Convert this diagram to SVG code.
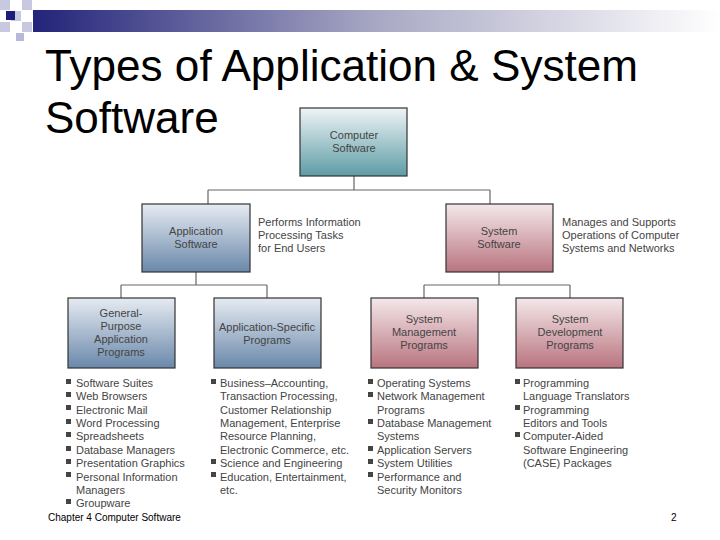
<svg xmlns="http://www.w3.org/2000/svg" width="720" height="540" viewBox="0 0 720 540">
<defs>
<linearGradient id="bar" x1="0" x2="1" y1="0" y2="0"><stop offset="0" stop-color="#23237a"/><stop offset="0.5" stop-color="#a8a8c4"/><stop offset="1" stop-color="#ffffff"/></linearGradient>
<linearGradient id="teal" x1="0" x2="0" y1="0" y2="1"><stop offset="0" stop-color="#eef4f5"/><stop offset="1" stop-color="#5e9ca6"/></linearGradient>
<linearGradient id="blue" x1="0" x2="0" y1="0" y2="1"><stop offset="0" stop-color="#e6ebf2"/><stop offset="1" stop-color="#6a88aa"/></linearGradient>
<linearGradient id="red" x1="0" x2="0" y1="0" y2="1"><stop offset="0" stop-color="#f4e8ea"/><stop offset="1" stop-color="#b9747f"/></linearGradient>
</defs>
<style>
.box{stroke:#333;stroke-width:1.2}
.bl{font-family:"Liberation Sans",Arial,sans-serif;font-size:11px;fill:#444;text-anchor:middle}
.t{font-family:"Liberation Sans",Arial,sans-serif;font-size:11px;fill:#444}
.sq{fill:#444}
.ln{stroke:#666;stroke-width:1.2;fill:none}
</style>
<rect x="0" y="0" width="10" height="10" fill="#c8c8e0"/>
<rect x="22" y="0" width="10" height="10" fill="#c8c8e0"/>
<rect x="11" y="11" width="10" height="10" fill="#c8c8e0"/>
<rect x="0" y="22" width="10" height="10" fill="#c8c8e0"/>
<rect x="22" y="22" width="10" height="10" fill="#c8c8e0"/>
<rect x="16" y="33" width="8" height="8" fill="#b8b8d8"/>
<rect x="6" y="11" width="9" height="9" fill="#1c1c7a"/>
<rect x="33" y="10" width="687" height="22" fill="url(#bar)"/>
<text x="45" y="81" font-family="Liberation Sans,Arial,sans-serif" font-size="44" fill="#000" textLength="593" lengthAdjust="spacingAndGlyphs">Types of Application &amp; System</text>
<text x="45" y="133" font-family="Liberation Sans,Arial,sans-serif" font-size="44" fill="#000">Software</text>
<g id="connectors">
<path class="ln" d="M354 176V190M208 190H490M208 190V204M490 190V204"/>
<path class="ln" d="M196 272V285M121 285H267M121 285V298M267 285V298"/>
<path class="ln" d="M499 272V285M424 285H570M424 285V298M570 285V298"/>
</g>
<g id="computer"><rect class="box" x="300" y="108" width="107" height="68" fill="url(#teal)"/><text class="bl" x="354" y="139">Computer</text><text class="bl" x="354" y="152">Software</text></g>
<g id="app"><rect class="box" x="142" y="204" width="108" height="68" fill="url(#blue)"/><text class="bl" x="196" y="235">Application</text><text class="bl" x="196" y="248">Software</text>
<text class="t" x="258" y="226">Performs Information</text><text class="t" x="258" y="239">Processing Tasks</text><text class="t" x="258" y="252">for End Users</text></g>
<g id="sys"><rect class="box" x="446" y="204" width="107" height="68" fill="url(#red)"/><text class="bl" x="499" y="235">System</text><text class="bl" x="499" y="248">Software</text>
<text class="t" x="562" y="226">Manages and Supports</text><text class="t" x="562" y="239">Operations of Computer</text><text class="t" x="562" y="252">Systems and Networks</text></g>
<g id="gp"><rect class="box" x="68" y="298" width="107" height="70" fill="url(#blue)"/><text class="bl" x="121" y="317">General-</text><text class="bl" x="121" y="330">Purpose</text><text class="bl" x="121" y="343">Application</text><text class="bl" x="121" y="356">Programs</text></g>
<g id="as"><rect class="box" x="214" y="298" width="107" height="70" fill="url(#blue)"/><text class="bl" x="267" y="331">Application-Specific</text><text class="bl" x="267" y="344">Programs</text></g>
<g id="sm"><rect class="box" x="371" y="298" width="107" height="70" fill="url(#red)"/><text class="bl" x="424" y="323">System</text><text class="bl" x="424" y="336">Management</text><text class="bl" x="424" y="349">Programs</text></g>
<g id="sd"><rect class="box" x="516" y="298" width="107" height="70" fill="url(#red)"/><text class="bl" x="570" y="323">System</text><text class="bl" x="570" y="336">Development</text><text class="bl" x="570" y="349">Programs</text></g>
<g id="list1">
<rect class="sq" x="66" y="379" width="5" height="5"/><text class="t" x="76" y="387">Software Suites</text>
<rect class="sq" x="66" y="392" width="5" height="5"/><text class="t" x="76" y="400">Web Browsers</text>
<rect class="sq" x="66" y="405" width="5" height="5"/><text class="t" x="76" y="414">Electronic Mail</text>
<rect class="sq" x="66" y="419" width="5" height="5"/><text class="t" x="76" y="427">Word Processing</text>
<rect class="sq" x="66" y="432" width="5" height="5"/><text class="t" x="76" y="440">Spreadsheets</text>
<rect class="sq" x="66" y="446" width="5" height="5"/><text class="t" x="76" y="454">Database Managers</text>
<rect class="sq" x="66" y="459" width="5" height="5"/><text class="t" x="76" y="467">Presentation Graphics</text>
<rect class="sq" x="66" y="472" width="5" height="5"/><text class="t" x="76" y="481">Personal Information</text>
<text class="t" x="76" y="494">Managers</text>
<rect class="sq" x="66" y="499" width="5" height="5"/><text class="t" x="76" y="507">Groupware</text>
</g>
<g id="list2">
<rect class="sq" x="211" y="379" width="5" height="5"/><text class="t" x="220" y="387">Business–Accounting,</text>
<text class="t" x="220" y="400">Transaction Processing,</text>
<text class="t" x="220" y="414">Customer Relationship</text>
<text class="t" x="220" y="427">Management, Enterprise</text>
<text class="t" x="220" y="440">Resource Planning,</text>
<text class="t" x="220" y="454">Electronic Commerce, etc.</text>
<rect class="sq" x="211" y="459" width="5" height="5"/><text class="t" x="220" y="467">Science and Engineering</text>
<rect class="sq" x="211" y="472" width="5" height="5"/><text class="t" x="220" y="481">Education, Entertainment,</text>
<text class="t" x="220" y="494">etc.</text>
</g>
<g id="list3">
<rect class="sq" x="368" y="379" width="5" height="5"/><text class="t" x="377" y="387">Operating Systems</text>
<rect class="sq" x="368" y="392" width="5" height="5"/><text class="t" x="377" y="400">Network Management</text>
<text class="t" x="377" y="414">Programs</text>
<rect class="sq" x="368" y="419" width="5" height="5"/><text class="t" x="377" y="427">Database Management</text>
<text class="t" x="377" y="440">Systems</text>
<rect class="sq" x="368" y="446" width="5" height="5"/><text class="t" x="377" y="454">Application Servers</text>
<rect class="sq" x="368" y="459" width="5" height="5"/><text class="t" x="377" y="467">System Utilities</text>
<rect class="sq" x="368" y="472" width="5" height="5"/><text class="t" x="377" y="481">Performance and</text>
<text class="t" x="377" y="494">Security Monitors</text>
</g>
<g id="list4">
<rect class="sq" x="515" y="379" width="5" height="5"/><text class="t" x="523" y="387">Programming</text>
<text class="t" x="523" y="400">Language Translators</text>
<rect class="sq" x="515" y="405" width="5" height="5"/><text class="t" x="523" y="414">Programming</text>
<text class="t" x="523" y="427">Editors and Tools</text>
<rect class="sq" x="515" y="432" width="5" height="5"/><text class="t" x="523" y="440">Computer-Aided</text>
<text class="t" x="523" y="454">Software Engineering</text>
<text class="t" x="523" y="467">(CASE) Packages</text>
</g>
<text x="48" y="521" font-family="Liberation Sans,Arial,sans-serif" font-size="10" fill="#000">Chapter 4 Computer Software</text>
<text x="671" y="521" font-family="Liberation Sans,Arial,sans-serif" font-size="10" fill="#000">2</text>
</svg>
